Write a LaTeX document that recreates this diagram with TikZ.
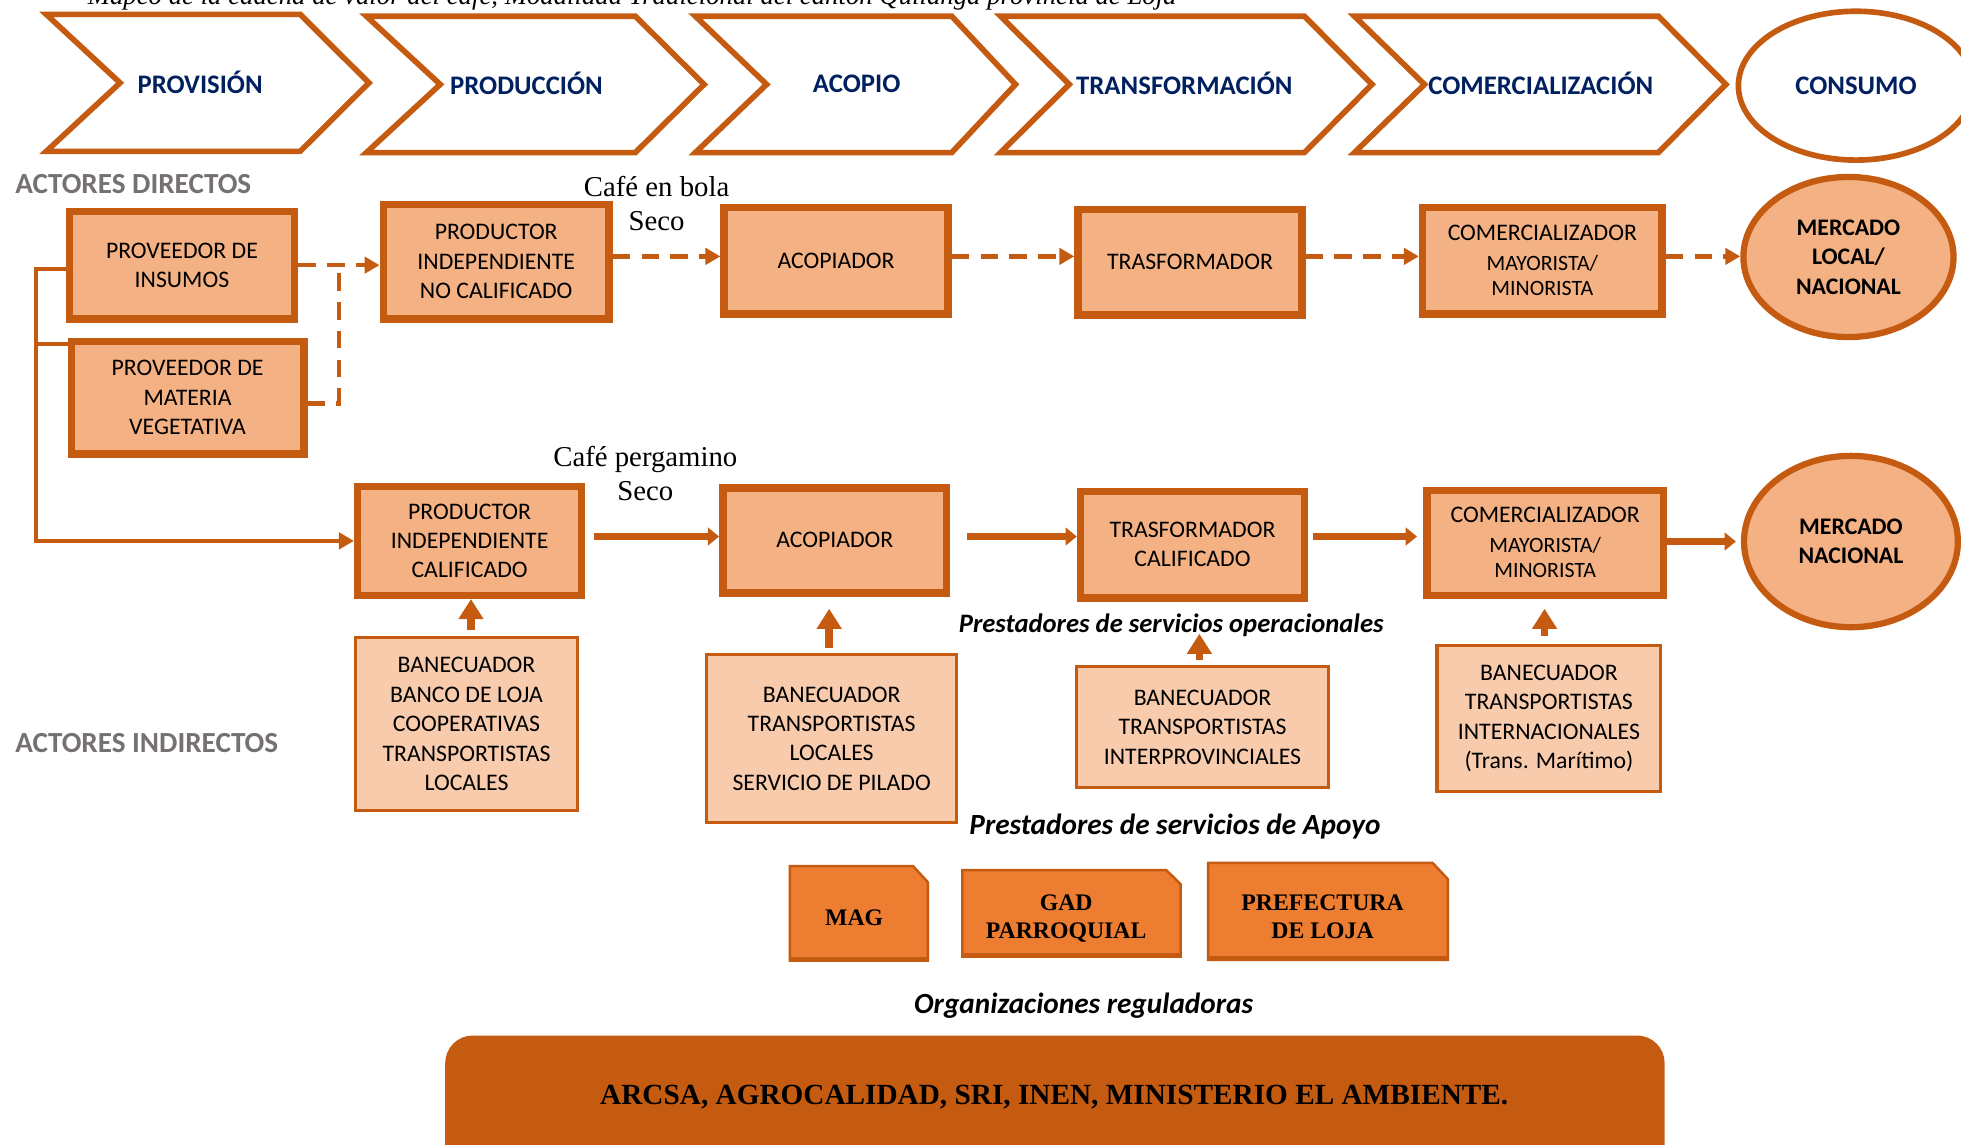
\documentclass[tikz,border=0pt]{standalone}
\usepackage{fontspec}
\setmainfont{Carlito}
\newfontfamily\serifrm{Liberation Serif}
\usetikzlibrary{arrows.meta,calc,backgrounds,shapes.geometric}

\definecolor{rust}{HTML}{C55A11}
\definecolor{peach}{HTML}{F4B183}
\definecolor{paleorange}{HTML}{F8CBAD}
\definecolor{brightorange}{HTML}{ED7D31}
\definecolor{navy}{HTML}{002060}
\definecolor{labelgray}{HTML}{767171}

\newcommand{\boxfont}{\fontsize{19}{23.5}\selectfont}
\newcommand{\smallsz}{\fontsize{17.5}{20}\selectfont}

\begin{document}
\begin{tikzpicture}[x=1pt,y=-1pt,
  stage/.style={font=\bfseries\fontsize{21.4}{25}\selectfont, text=navy, inner sep=0pt},
  chev/.style={draw=rust, line width=4.5pt, line join=miter, fill=white},
  direct/.style={draw=rust, fill=peach, line width=6pt, align=center, font=\boxfont, inner sep=0pt},
  indirect/.style={draw=rust, fill=paleorange, line width=2.5pt, align=center, font=\boxfont, inner sep=0pt},
  market/.style={ellipse, draw=rust, fill=peach, line width=5pt, align=center, font=\bfseries\boxfont, inner sep=0pt},
  actors/.style={font=\bfseries\fontsize{23.3}{27}\selectfont, text=labelgray, anchor=west, inner sep=0pt},
  prodlabel/.style={font=\serifrm\fontsize{23}{27}\selectfont, align=center, inner sep=0pt},
  grouplabel/.style={font=\bfseries\itshape\fontsize{23.4}{27}\selectfont, inner sep=0pt},
  agency/.style={font=\serifrm\bfseries\fontsize{19}{23}\selectfont, align=center, inner sep=0pt},
  card/.style={fill=brightorange, draw=rust, line width=2pt},
  cardbase/.style={draw=rust, line width=3.5pt},
  dashline/.style={draw=rust, line width=3.5pt, dash pattern=on 14pt off 9pt},
  dashflow/.style={dashline, -{Triangle[length=12pt,width=13pt]}},
  link/.style={draw=rust, line width=3.5pt},
  flow/.style={draw=rust, line width=6pt, -{Triangle[length=9pt,width=14pt]}},
  lift/.style={draw=rust, line width=6pt, -{Triangle[length=16pt,width=19pt]}},
]
\path[use as bounding box] (0,0) rectangle (1568,915);
\begin{scope}[on background layer]
  \fill[white] (0,0) rectangle (1568,915);
\end{scope}

% heading line
\node[font=\serifrm\itshape\fontsize{21.4}{25}\selectfont, anchor=base west, inner sep=0pt] (title) at (70,4)
  {Mapeo de la cadena de valor del café, Modalidad Tradicional del cantón Quilanga provincia de Loja};

% stages of the chain
\draw[chev] (37,11.5) -- (240,11.5) -- (295,66.25) -- (240,121) -- (37,121) -- (96,66.25) -- cycle;
\node[stage] (provision) at (160,66) {PROVISIÓN};
\draw[chev] (293,13) -- (508,13) -- (563,67.5) -- (508,122) -- (293,122) -- (352,67.5) -- cycle;
\node[stage] (produccion) at (421,67) {PRODUCCIÓN};
\draw[chev] (556,13) -- (761,13) -- (812,67.5) -- (761,122) -- (556,122) -- (613,67.5) -- cycle;
\node[stage] (acopio) at (685,67) {ACOPIO};
\draw[chev] (800,13) -- (1043,13) -- (1097,67.5) -- (1043,122) -- (800,122) -- (855,67.5) -- cycle;
\node[stage] (transf) at (947,67) {TRANSFORMACIÓN};
\draw[chev] (1083,13) -- (1326,13) -- (1380,67.5) -- (1326,122) -- (1083,122) -- (1139,67.5) -- cycle;
\node[stage] (comerc) at (1232,67) {COMERCIALIZACIÓN};
\node[ellipse, draw=rust, line width=4.5pt, fill=white, minimum width=188pt, minimum height=119pt, stage] (consumo) at (1484,68.5) {CONSUMO};

% side labels
\node[actors] (dir) at (12,147) {ACTORES DIRECTOS};
\node[actors] (indir) at (12,594) {ACTORES INDIRECTOS};

% direct actors, first chain
\node[direct, minimum width=180pt, minimum height=86pt] (insumos) at (145.5,212) {PROVEEDOR DE\\INSUMOS};
\node[direct, minimum width=186pt, minimum height=90pt] (materia) at (150,318) {PROVEEDOR DE\\MATERIA\\VEGETATIVA};
\node[direct, minimum width=180.5pt, minimum height=91.5pt] (prodnc) at (396.75,209.25) {PRODUCTOR\\INDEPENDIENTE\\NO CALIFICADO};
\node[direct, minimum width=179pt, minimum height=85pt] (acop1) at (668.5,208.5) {ACOPIADOR};
\node[direct, minimum width=179pt, minimum height=84.5pt] (trans1) at (951.5,209.75) {TRASFORMADOR};
\node[direct, minimum width=191.5pt, minimum height=85pt] (comer1) at (1233.25,208.5) {COMERCIALIZADOR\\{\smallsz MAYORISTA/}\\[-3pt]{\smallsz MINORISTA}};
\node[market, minimum width=168pt, minimum height=128pt] (mercado1) at (1478,205.5) {MERCADO\\LOCAL/\\NACIONAL};

% direct actors, second chain
\node[direct, minimum width=179pt, minimum height=87pt] (prodc) at (375.5,432.5) {PRODUCTOR\\INDEPENDIENTE\\CALIFICADO};
\node[direct, minimum width=179pt, minimum height=84pt] (acop2) at (667.5,432) {ACOPIADOR};
\node[direct, minimum width=179pt, minimum height=85pt] (trans2) at (953.5,435.5) {TRASFORMADOR\\CALIFICADO};
\node[direct, minimum width=189pt, minimum height=84pt] (comer2) at (1235.5,434) {COMERCIALIZADOR\\{\smallsz MAYORISTA/}\\[-3pt]{\smallsz MINORISTA}};
\node[market, minimum width=171pt, minimum height=137pt] (mercado2) at (1480,433) {MERCADO\\NACIONAL};

% product labels
\node[prodlabel] (bola) at (525,162.5) {Café en bola\\Seco};
\node[prodlabel] (pergamino) at (516,378.5) {Café pergamino\\Seco};

% indirect actors
\node[indirect, minimum width=178pt, minimum height=138pt] (apoyoA) at (373,579) {BANECUADOR\\BANCO DE LOJA\\COOPERATIVAS\\TRANSPORTISTAS\\LOCALES};
\node[indirect, minimum width=200pt, minimum height=135pt] (apoyoB) at (665,590.5) {BANECUADOR\\TRANSPORTISTAS\\LOCALES\\SERVICIO DE PILADO};
\node[indirect, minimum width=201pt, minimum height=97pt] (apoyoC) at (961.5,581.5) {BANECUADOR\\TRANSPORTISTAS\\INTERPROVINCIALES};
\node[indirect, minimum width=179pt, minimum height=117pt] (apoyoD) at (1238.5,574.5) {BANECUADOR\\TRANSPORTISTAS\\INTERNACIONALES\\(Trans. Marítimo)};

\node[grouplabel, font=\bfseries\itshape\fontsize{21.3}{25}\selectfont] (oper) at (936.5,500) {Prestadores de servicios operacionales};
\node[grouplabel] (apoyo) at (939.5,661) {Prestadores de servicios de Apoyo};
\node[grouplabel] (regul) at (866.5,804) {Organizaciones reguladoras};

% public agencies: snipped-corner cards with their names
\draw[card] (631.5,768) -- (631.5,692.5) -- (730,692.5) -- (742,705.5) -- (742,768) -- cycle;
\draw[cardbase] (631.5,767) -- (742,767);
\draw[card] (769.4,765) -- (769.4,695.7) -- (932.5,695.7) -- (944,707) -- (944,765) -- cycle;
\draw[cardbase] (769.4,764) -- (944,764);
\draw[card] (966,767.5) -- (966,690) -- (1145.5,690) -- (1157.7,703) -- (1157.7,767.5) -- cycle;
\draw[cardbase] (966,766.5) -- (1157.7,766.5);
\node[agency] (mag) at (683,734) {MAG};
\node[agency] (gad) at (852.5,734.5) {GAD\\PARROQUIAL};
\node[agency] (pref) at (1057.5,733) {PREFECTURA\\DE LOJA};

% regulators band
\fill[rust, rounded corners=22pt] (356,828) rectangle (1331,960);
\node[font=\serifrm\bfseries\fontsize{23.4}{27}\selectfont, inner sep=0pt] (entes) at (843,877)
  {ARCSA, AGROCALIDAD, SRI, INEN, MINISTERIO EL AMBIENTE.};

% supply links
\coordinate (junction) at ($(insumos.east)!0.5!(prodnc.west |- insumos.east)$);
\draw[dashflow] (insumos.east) -- (insumos.east -| prodnc.west);
\draw[dashline] ([yshift=-4.5pt]materia.east) -| (junction);
\coordinate (rail) at (28.6,275);
\draw[link, -{Triangle[length=12pt,width=13pt]}] ([yshift=-3pt]insumos.west) -| (rail) |- (prodc.west);
\draw[link] (rail) -- (rail -| materia.west);

% first chain flow
\coordinate (lane1) at (0,205);
\draw[dashflow] (prodnc.east |- lane1) -- (acop1.west |- lane1);
\draw[dashflow] (acop1.east |- lane1) -- (trans1.west |- lane1);
\draw[dashflow] (trans1.east |- lane1) -- (comer1.west |- lane1);
\draw[dashflow] (comer1.east |- lane1) -- (mercado1.west |- lane1);

% second chain flow
\coordinate (lane2) at (0,429);
\coordinate (lane3) at (0,433);
\draw[flow, shorten <=7pt] (prodc.east |- lane2) -- (acop2.west |- lane2);
\draw[flow, shorten <=13pt] (acop2.east |- lane2) -- (trans2.west |- lane2);
\draw[flow, shorten <=4pt, shorten >=5pt] (trans2.east |- lane2) -- (comer2.west |- lane2);
\draw[flow, shorten <=-6pt, shorten >=4pt] (comer2.east |- lane3) -- (mercado2.west |- lane3);

% support arrows
\coordinate (liftA) at ($(apoyoA.north)+(3.6,-5)$);
\draw[lift] (liftA) -- (liftA |- prodc.south);
\draw[lift] ($(apoyoB.north)+(-2,-4)$) -- ++(0,-31);
\draw[lift] ($(apoyoC.north)+(-2.5,-4)$) -- ++(0,-21);
\draw[lift] ($(apoyoD.north)+(-3.5,-6)$) -- ++(0,-22);
\end{tikzpicture}
\end{document}
